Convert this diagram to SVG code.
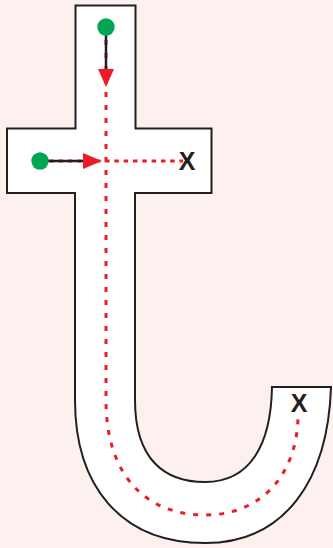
<svg xmlns="http://www.w3.org/2000/svg" width="333" height="548" viewBox="0 0 333 548">
<defs>
<style>
.outline{fill:#ffffff;stroke:#231f20;stroke-width:2;stroke-linejoin:miter}
.dash{fill:none;stroke:#ed1c24;stroke-width:3;stroke-dasharray:5 8}
.dash2{fill:none;stroke:#ed1c24;stroke-width:3;stroke-dasharray:4.5 4.8}
.line{stroke:#231f20;stroke-width:2.5;fill:none}
.head{fill:#ed1c24}
.dot{fill:#00a651}
.x{font-family:"Liberation Sans",Arial,sans-serif;font-size:25px;font-weight:bold;fill:#231f20;text-anchor:middle}
</style>
</defs>
<rect width="333" height="548" fill="#fcf1ef"/>
<g id="letter-t">
<path class="outline" d="M75.5,5.5 H135.5 V128.5 H211.5 V193 H135 V400 C135,460 165,482 205,482 C250,482 271,445 272,387 H331 C328,480 285,543 205,543 C120,543 75,485 75,400 V193 H7 V128.5 H75.5 Z"/>
</g>
<g id="connectors">
<path class="dash" d="M106,27 V400 C106,480 150,515 205,515 C265,515 298,470 298,415"/>
<path class="dash2" d="M40,161 H183"/>
<line class="line" x1="106" y1="27" x2="106" y2="71"/>
<polygon class="head" points="98,69 114,69 106,87"/>
<line class="line" x1="40" y1="161" x2="85" y2="161"/>
<polygon class="head" points="83,153 83,169 102,161"/>
</g>
<g id="stroke1-start"><circle class="dot" cx="106" cy="27" r="8.7"/></g>
<g id="stroke2-start"><circle class="dot" cx="40" cy="161" r="8.7"/></g>
<g id="end1"><text class="x" x="187" y="169.5">X</text></g>
<g id="end2"><text class="x" x="299" y="412">X</text></g>
</svg>
